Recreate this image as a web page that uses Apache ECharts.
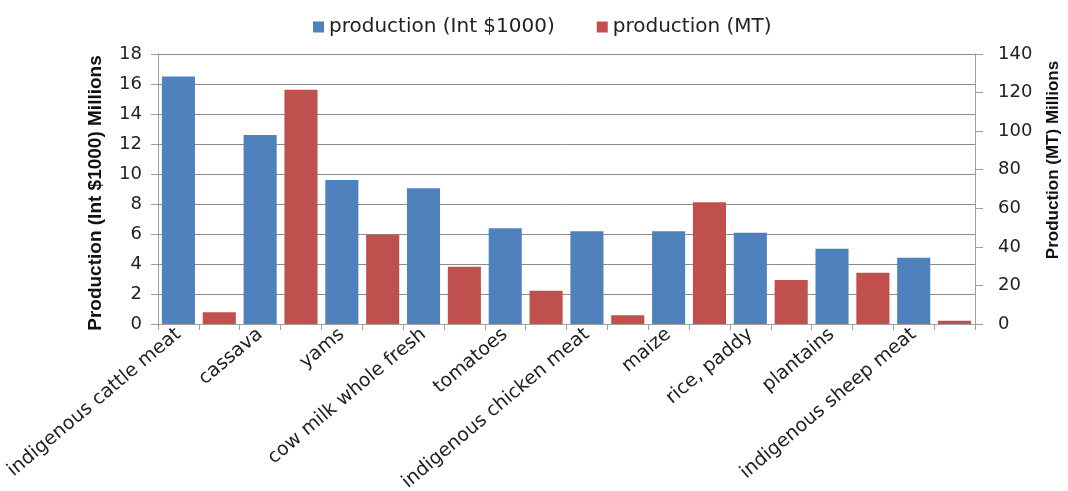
<!DOCTYPE html>
<html>
<head>
<meta charset="utf-8">
<script src="https://cdn.jsdelivr.net/npm/echarts@6/dist/echarts.min.js"></script>
<style>html,body{margin:0;padding:0;background:#fff}#c{width:1068px;height:491px}</style>
</head>
<body>
<div id="c"></div>
<script>
var categories = ['indigenous cattle meat','cassava','yams','cow milk whole fresh','tomatoes','indigenous chicken meat','maize','rice, paddy','plantains','indigenous sheep meat'];
var valueInt = [16.5, 12.6, 9.6, 9.05, 6.38, 6.18, 6.18, 6.09, 5.02, 4.42];
var valueMT = [6.05, 121.5, 46.3, 29.7, 17.3, 4.5, 63.1, 22.8, 26.6, 1.7];
var leftTicks = {min: 0, max: 18, interval: 2};
var rightTicks = {min: 0, max: 140, interval: 20};

// each category occupies two slots: blue slot then red slot
var slots = [], blueData = [], redData = [];
categories.forEach(function (c, i) {
  slots.push(c); slots.push('');
  blueData.push(valueInt[i]); blueData.push(null);
  redData.push(null); redData.push(valueMT[i]);
});

var font = 'DejaVu Sans, sans-serif';
var boldFont = 'Liberation Sans, Arial, sans-serif';
var chart = echarts.init(document.getElementById('c'));
chart.setOption({
  animation: false,
  legend: {
    top: 12, left: 308, itemWidth: 11, itemHeight: 11, itemGap: 42,
    icon: 'rect',
    textStyle: {fontFamily: font, fontSize: 20, color: '#222'}
  },
  grid: {left: 158, right: 93, top: 54, bottom: 167, outerBoundsMode: 'none', containLabel: false},
  xAxis: {
    type: 'category', data: slots,
    axisLine: {lineStyle: {color: '#a0a0a0'}},
    axisTick: {show: true, interval: 0, length: 6, lineStyle: {color: '#a0a0a0'}},
    axisLabel: {interval: 1, rotate: 40, fontFamily: font, fontSize: 19, color: '#222', margin: 8}
  },
  yAxis: [{
    type: 'value', min: leftTicks.min, max: leftTicks.max, interval: leftTicks.interval,
    name: 'Production (Int $1000) Millions', nameLocation: 'middle', nameGap: 53,
    nameTextStyle: {fontFamily: boldFont, fontSize: 19, fontWeight: 'bold', color: '#111', padding: [0, 8, 0, 0]},
    axisLine: {show: true, lineStyle: {color: '#a0a0a0'}},
    axisTick: {show: true, length: 7, lineStyle: {color: '#a0a0a0'}},
    axisLabel: {fontFamily: font, fontSize: 18, color: '#222', margin: 16},
    splitLine: {lineStyle: {color: '#8c8c8c'}}
  }, {
    type: 'value', min: rightTicks.min, max: rightTicks.max, interval: rightTicks.interval,
    name: 'Production (MT) Millions', nameLocation: 'middle', nameGap: 70,
    nameTextStyle: {fontFamily: boldFont, fontSize: 17, fontWeight: 'bold', color: '#111', padding: [0, 0, 0, 58]},
    axisLine: {show: true, lineStyle: {color: '#a0a0a0'}},
    axisTick: {show: true, length: 8, lineStyle: {color: '#a0a0a0'}},
    axisLabel: {fontFamily: font, fontSize: 18, color: '#222', margin: 23},
    splitLine: {show: false}
  }],
  series: [{
    name: 'production (Int $1000)', type: 'bar', yAxisIndex: 0, data: blueData,
    barWidth: '81%', barGap: '-100%', itemStyle: {color: '#4F81BD'}
  }, {
    name: 'production (MT)', type: 'bar', yAxisIndex: 1, data: redData,
    barWidth: '81%', barGap: '-100%', itemStyle: {color: '#C0504D'}
  }]
});
</script>
</body>
</html>
